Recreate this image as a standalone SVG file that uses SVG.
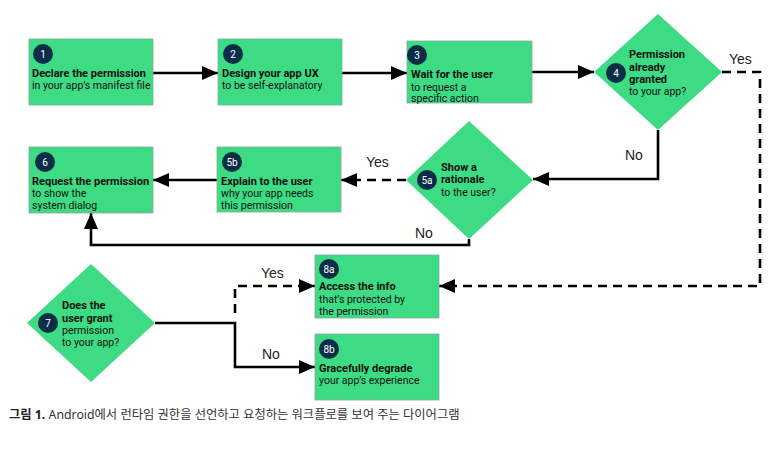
<svg xmlns="http://www.w3.org/2000/svg" width="773" height="463" viewBox="0 0 773 463">
<defs>
<style>
.box{fill:#3ddc84;stroke:#8aa896;stroke-width:0.8}
.dia{fill:#3ddc84}
.num{fill:#0c2d48}
.nt{font-family:Roboto,"Liberation Sans",sans-serif;font-size:10px;fill:#fff;text-anchor:middle}
.t{font-family:Roboto,"Liberation Sans",sans-serif;font-size:10.5px;fill:#111}
.b{font-weight:bold;font-size:11px}
.lbl{font-family:"Liberation Sans",Arial,sans-serif;font-size:14px;fill:#222}
.ln{fill:none;stroke:#000;stroke-width:2.6}
.dash{stroke-dasharray:9,6}
.cap{font-family:"Noto Sans","Noto Sans CJK KR",sans-serif;font-size:12.3px;fill:#333}
</style>
<marker id="ah" markerUnits="userSpaceOnUse" markerWidth="16" markerHeight="14" refX="16" refY="7" orient="auto">
<path d="M0,0 L16,7 L0,14 z" fill="#000"/>
</marker>
</defs>
<rect width="773" height="463" fill="#fff"/>

<g id="connectors">
<line class="ln" x1="153" y1="73" x2="218" y2="73" marker-end="url(#ah)"/>
<line class="ln" x1="342" y1="73" x2="407" y2="73" marker-end="url(#ah)"/>
<line class="ln" x1="532" y1="72" x2="594" y2="72" marker-end="url(#ah)"/>
<polyline class="ln dash" points="722,72 760,72 760,286 439,286" marker-end="url(#ah)"/>
<polyline class="ln" points="658,130 658,179 533,179" marker-end="url(#ah)"/>
<line class="ln dash" x1="406" y1="180" x2="341" y2="180" marker-end="url(#ah)"/>
<line class="ln" x1="217" y1="180" x2="153" y2="180" marker-end="url(#ah)"/>
<polyline class="ln" points="469,239 469,245 91,245 91,213" marker-end="url(#ah)"/>
<polyline class="ln" points="155,323 235,323 235,367 315,367" marker-end="url(#ah)"/>
<polyline class="ln dash" points="235,313 235,286 315,286" marker-end="url(#ah)"/>
<text class="lbl" x="729" y="64">Yes</text>
<text class="lbl" x="625" y="160">No</text>
<text class="lbl" x="366" y="167">Yes</text>
<text class="lbl" x="415" y="238">No</text>
<text class="lbl" x="261" y="278">Yes</text>
<text class="lbl" x="262" y="359">No</text>
</g>

<g id="n1">
<rect class="box" x="29" y="39" width="124" height="66"/>
<circle class="num" cx="43" cy="54" r="10"/><text class="nt" x="43" y="57.5">1</text>
<text class="t b" x="32" y="77">Declare the permission</text>
<text class="t" x="32" y="89">in your app’s manifest file</text>
</g>
<g id="n2">
<rect class="box" x="218" y="39" width="124" height="66"/>
<circle class="num" cx="233" cy="54" r="10"/><text class="nt" x="233" y="57.5">2</text>
<text class="t b" x="222" y="77">Design your app UX</text>
<text class="t" x="222" y="89">to be self-explanatory</text>
</g>
<g id="n3">
<rect class="box" x="407" y="41" width="125" height="62"/>
<circle class="num" cx="417" cy="55" r="10"/><text class="nt" x="417" y="58.5">3</text>
<text class="t b" x="411" y="78">Wait for the user</text>
<text class="t" x="411" y="90.5">to request a</text>
<text class="t" x="411" y="102">specific action</text>
</g>
<g id="n4">
<polygon class="dia" points="658,14 722,72 658,130 594,72"/>
<circle class="num" cx="616" cy="73" r="10"/><text class="nt" x="616" y="76.5">4</text>
<text class="t b" x="629" y="58">Permission</text>
<text class="t b" x="629" y="71">already</text>
<text class="t b" x="629" y="83">granted</text>
<text class="t" x="629" y="95">to your app?</text>
</g>
<g id="n5a">
<polygon class="dia" points="469,121 533,180 469,239 406,180"/>
<circle class="num" cx="427" cy="180" r="10"/><text class="nt" x="427" y="183.5">5a</text>
<text class="t b" x="441" y="171">Show a</text>
<text class="t b" x="441" y="183">rationale</text>
<text class="t" x="441" y="196">to the user?</text>
</g>
<g id="n5b">
<rect class="box" x="217" y="147" width="124" height="65"/>
<circle class="num" cx="232" cy="162" r="10"/><text class="nt" x="232" y="165.5">5b</text>
<text class="t b" x="221" y="185">Explain to the user</text>
<text class="t" x="221" y="197">why your app needs</text>
<text class="t" x="221" y="209">this permission</text>
</g>
<g id="n6">
<rect class="box" x="29" y="147" width="124" height="66"/>
<circle class="num" cx="45" cy="162" r="10"/><text class="nt" x="45" y="165.5">6</text>
<text class="t b" x="32" y="185">Request the permission</text>
<text class="t" x="32" y="197">to show the</text>
<text class="t" x="32" y="209">system dialog</text>
</g>
<g id="n7">
<polygon class="dia" points="91,264 155,323 91,382 27,323"/>
<circle class="num" cx="48" cy="323" r="10"/><text class="nt" x="48" y="326.5">7</text>
<text class="t b" x="62" y="309">Does the</text>
<text class="t b" x="62" y="322">user grant</text>
<text class="t" x="62" y="334">permission</text>
<text class="t" x="62" y="346">to your app?</text>
</g>
<g id="n8a">
<rect class="box" x="315" y="255" width="124" height="63"/>
<circle class="num" cx="329" cy="269" r="10"/><text class="nt" x="329" y="272.5">8a</text>
<text class="t b" x="319" y="290">Access the info</text>
<text class="t" x="319" y="303">that’s protected by</text>
<text class="t" x="319" y="315">the permission</text>
</g>
<g id="n8b">
<rect class="box" x="315" y="334" width="124" height="66"/>
<circle class="num" cx="329" cy="349" r="10"/><text class="nt" x="329" y="352.5">8b</text>
<text class="t b" x="319" y="372">Gracefully degrade</text>
<text class="t" x="319" y="384">your app’s experience</text>
</g>

<text class="cap" x="9" y="419"><tspan font-weight="bold" fill="#202124">그림 1.</tspan> Android에서 런타임 권한을 선언하고 요청하는 워크플로를 보여 주는 다이어그램</text>
</svg>
